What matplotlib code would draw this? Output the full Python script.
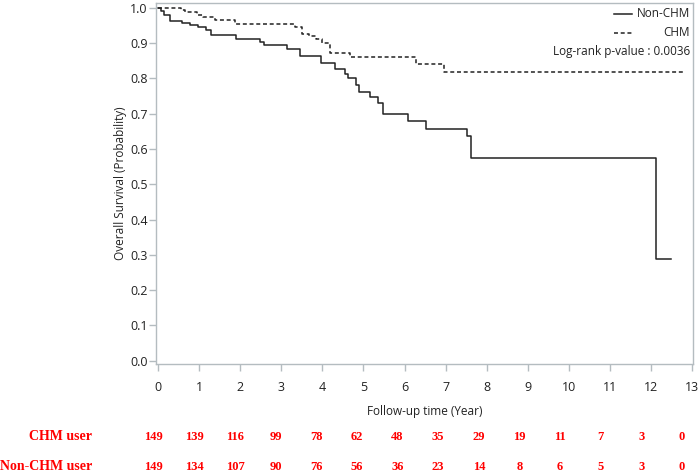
import matplotlib
matplotlib.use("Agg")
import matplotlib.pyplot as plt
from matplotlib.lines import Line2D
from matplotlib.transforms import blended_transform_factory

# Kaplan-Meier steps (time in years, survival probability)
chm_t = [0, 0.55, 0.66, 0.94, 1.1, 1.39, 1.87, 3.33, 3.5, 3.68, 3.85, 4.0, 4.19, 4.67, 6.28, 6.95, 12.83]
chm_s = [1.0, 0.993, 0.987, 0.98, 0.973, 0.966, 0.953, 0.946, 0.926, 0.919, 0.912, 0.899, 0.872, 0.859, 0.839, 0.818, 0.818]

non_t = [0, 0.06, 0.15, 0.29, 0.58, 0.78, 0.97, 1.17, 1.29, 1.9, 2.47, 2.57, 3.14, 3.46, 3.96, 4.3, 4.55, 4.62,
         4.82, 4.9, 5.16, 5.36, 5.47, 6.09, 6.52, 7.51, 7.61, 12.11, 12.48]
non_s = [1.0, 0.99, 0.98, 0.963, 0.956, 0.951, 0.944, 0.937, 0.922, 0.912, 0.904, 0.894, 0.884, 0.862, 0.842, 0.827,
         0.812, 0.802, 0.78, 0.76, 0.747, 0.731, 0.698, 0.679, 0.656, 0.636, 0.575, 0.288, 0.288]

risk_times = list(range(14))
chm_risk = [149, 139, 116, 99, 78, 62, 48, 35, 29, 19, 11, 7, 3, 0]
non_risk = [149, 134, 107, 90, 76, 56, 36, 23, 14, 8, 6, 5, 3, 0]

plt.rcParams['font.family'] = ['Open Sans', 'DejaVu Sans']
gray = '#b4bcc0'
curve = '#222222'
dash = (0, (2.6, 1.8))

fig = plt.figure(figsize=(6.99, 4.74), dpi=100)
ax = fig.add_axes([156 / 699, 1 - 364 / 474, 537 / 699, 361 / 474])

ax.step(non_t, non_s, where='post', color=curve, lw=1.1, ls='-')
ax.step(chm_t, chm_s, where='post', color=curve, lw=1.1, ls=dash)

ax.set_xlim(-0.05, 13.02)
ax.set_ylim(-0.009, 1.013)
ax.set_xticks(range(14))
ax.set_yticks([i / 10 for i in range(11)])
ax.set_yticklabels([f'{i / 10:.1f}' for i in range(11)])
for s in ax.spines.values():
    s.set_color(gray)
    s.set_linewidth(1.0)
ax.tick_params(axis='both', colors=gray, labelcolor='#222222', labelsize=9, length=5, width=1)
ax.tick_params(axis='x', pad=7)
ax.tick_params(axis='y', pad=1)

ax.set_xlabel('Follow-up time (Year)', fontsize=8.5, color='#222222', labelpad=8)
ax.set_ylabel('Overall Survival (Probability)', fontsize=8.5, color='#222222', labelpad=2)

# legend drawn by hand, right aligned like the original
ax.add_line(Line2D([0.853, 0.887], [0.97, 0.97], transform=ax.transAxes, color=curve, lw=1.1))
ax.add_line(Line2D([0.853, 0.887], [0.918, 0.918], transform=ax.transAxes, color=curve, lw=1.1, ls=dash))
ax.text(0.994, 0.97, 'Non-CHM', transform=ax.transAxes, ha='right', va='center', fontsize=8.5, color='#222222')
ax.text(0.994, 0.918, 'CHM', transform=ax.transAxes, ha='right', va='center', fontsize=8.5, color='#222222')
ax.text(0.994, 0.865, 'Log-rank p-value : 0.0036', transform=ax.transAxes, ha='right', va='center',
        fontsize=8.5, color='#222222')

# number at risk
trans = blended_transform_factory(ax.transData, fig.transFigure)
serif = ['Liberation Serif', 'DejaVu Serif']
fig.text(92 / 699, 1 - 437 / 474, 'CHM user', ha='right', va='center', color='red',
         fontweight='bold', fontsize=10, family=serif)
fig.text(92 / 699, 1 - 467 / 474, 'Non-CHM user', ha='right', va='center', color='red',
         fontweight='bold', fontsize=10, family=serif)
for t, a, b in zip(risk_times, chm_risk, non_risk):
    xp = t * 0.989 - 0.105
    ax.text(xp, 1 - 437 / 474, str(a), transform=trans, ha='center', va='center', color='red',
            fontweight='bold', fontsize=9, family=serif)
    ax.text(xp, 1 - 467 / 474, str(b), transform=trans, ha='center', va='center', color='red',
            fontweight='bold', fontsize=9, family=serif)

fig.savefig('out.png', dpi=100)
